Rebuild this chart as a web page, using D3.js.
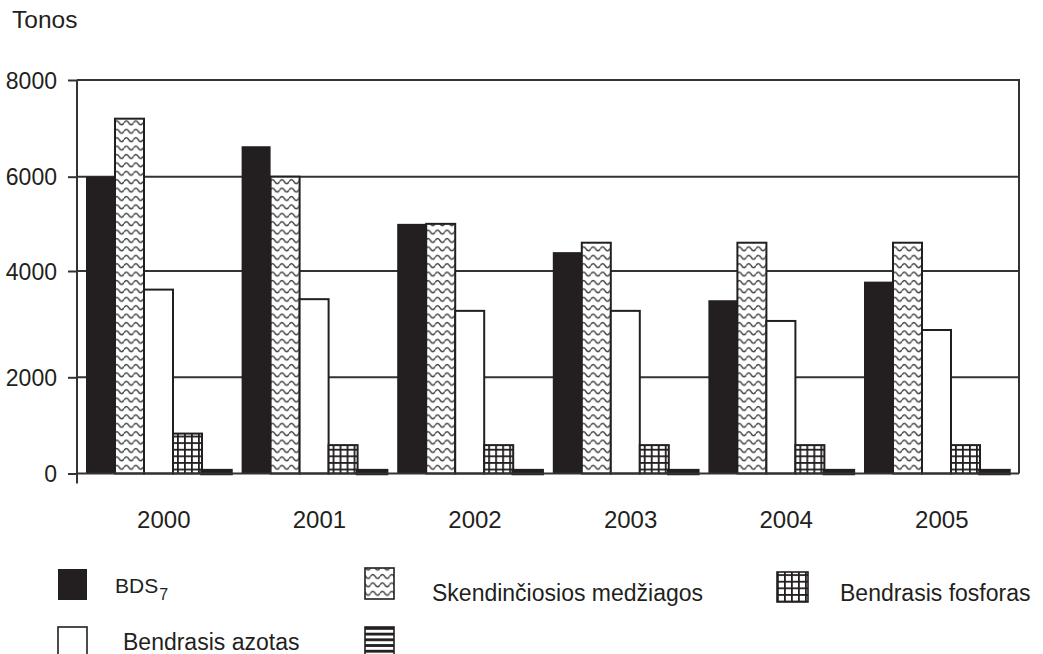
<!DOCTYPE html>
<html>
<head>
<meta charset="utf-8">
<script src="https://cdn.jsdelivr.net/npm/d3@7"></script>
<style>
  html, body { margin: 0; padding: 0; background: #fff; }
  svg { display: block; }
  text { font-family: "Liberation Sans", Arial, sans-serif; fill: #231f20; }
</style>
</head>
<body>
<svg id="chart" width="1043" height="654"></svg>
<script>
// Annual pollutant loads, tonnes
const years = ["2000", "2001", "2002", "2003", "2004", "2005"];
const seriesKeys = ["bds7", "skend", "azotas", "fosforas", "other"];
const seriesNames = ["BDS", "Skendinčiosios medžiagos", "Bendrasis azotas", "Bendrasis fosforas", ""];
const bds7     = [6000, 6630, 5000, 4400, 3450, 3800];
const skend    = [7200, 6000, 5000, 4600, 4600, 4600];
const azotas   = [3650, 3470, 3250, 3250, 3060, 2890];
const fosforas = [830, 590, 590, 590, 590, 590];
const other    = [60, 60, 60, 60, 60, 60];
const yTicks   = [0, 2000, 4000, 6000, 8000];

const seriesValues = { bds7, skend, azotas, fosforas, other };

const svg = d3.select("#chart");
const ink = "#231f20";

// Fill patterns
const defs = svg.append("defs");

const wave = defs.append("pattern").attr("id", "pat-wave")
  .attr("patternUnits", "userSpaceOnUse").attr("width", 9.5).attr("height", 8.4);
wave.append("rect").attr("width", 9.5).attr("height", 8.4).attr("fill", "#fff");
wave.append("path").attr("d", "M0,5.2 Q2.4,1.2 4.75,5.2 T9.5,5.2")
  .attr("fill", "none").attr("stroke", "#404040").attr("stroke-width", 1.5);

const grid = defs.append("pattern").attr("id", "pat-grid")
  .attr("patternUnits", "userSpaceOnUse").attr("width", 7).attr("height", 6.6);
grid.append("rect").attr("width", 7).attr("height", 6.6).attr("fill", ink);
grid.append("rect").attr("x", 1.8).attr("y", 1.8).attr("width", 5.2).attr("height", 4.8).attr("fill", "#fff");

const stripes = defs.append("pattern").attr("id", "pat-stripes")
  .attr("patternUnits", "userSpaceOnUse").attr("width", 10).attr("height", 5.7);
stripes.append("rect").attr("width", 10).attr("height", 5.7).attr("fill", "#fff");
stripes.append("rect").attr("width", 10).attr("height", 2.8).attr("fill", ink);

const seriesFill = {
  bds7: ink,
  skend: "url(#pat-wave)",
  azotas: "#fff",
  fosforas: "url(#pat-grid)",
  other: "url(#pat-stripes)"
};

// Plot frame
const plot = { left: 77, right: 1019, top: 80, bottom: 473.5 };

const y = d3.scaleLinear()
  .domain(yTicks)
  .range([473.5, 377.3, 271, 176.7, 80]);

const x = d3.scaleBand().domain(years).range([86, 1019.6]).paddingInner(0).paddingOuter(0);
const xs = d3.scaleBand().domain(seriesKeys).range([0, 145]).padding(0);

// Horizontal gridlines
svg.append("g").selectAll("line")
  .data(yTicks.slice(1, -1))
  .join("line")
  .attr("x1", plot.left).attr("x2", plot.right)
  .attr("y1", d => y(d)).attr("y2", d => y(d))
  .attr("stroke", "#333").attr("stroke-width", 2);

// Frame (top and right)
svg.append("path")
  .attr("d", `M${plot.left},${plot.top} H${plot.right} V${plot.bottom}`)
  .attr("fill", "none").attr("stroke", "#333").attr("stroke-width", 2);

// Bars
const groups = svg.append("g").selectAll("g")
  .data(years)
  .join("g")
  .attr("transform", d => `translate(${x(d)},0)`);

groups.selectAll("rect")
  .data((yr, i) => seriesKeys.map(k => ({ key: k, value: seriesValues[k][i] })))
  .join("rect")
  .attr("x", d => xs(d.key))
  .attr("width", xs.bandwidth())
  .attr("y", d => y(d.value))
  .attr("height", d => y(0) - y(d.value))
  .attr("fill", d => seriesFill[d.key])
  .attr("stroke", d => d.key === "bds7" ? "none" : ink)
  .attr("stroke-width", d => d.key === "other" ? 3.5 : 2);

// Baseline
svg.append("line")
  .attr("x1", plot.left).attr("x2", plot.right)
  .attr("y1", y(0)).attr("y2", y(0))
  .attr("stroke", "#333").attr("stroke-width", 2);

// Y axis
const yAxis = svg.append("g").attr("transform", `translate(${plot.left},0)`)
  .call(d3.axisLeft(y).tickValues(yTicks).tickFormat(d3.format("d")).tickSize(9).tickPadding(11));
yAxis.select(".domain").remove();
yAxis.selectAll(".tick line").attr("stroke", "#333").attr("stroke-width", 2);
yAxis.selectAll(".tick text")
  .attr("font-size", 23).attr("fill", ink)
  .attr("font-family", "'Liberation Sans', Arial, sans-serif")
  .attr("dy", "0.36em");
svg.append("line")
  .attr("x1", plot.left).attr("x2", plot.left)
  .attr("y1", plot.top).attr("y2", y(0) + 10)
  .attr("stroke", "#333").attr("stroke-width", 2);

// X axis labels
const xAxis = svg.append("g").attr("transform", `translate(0,${y(0)})`)
  .call(d3.axisBottom(x).tickSize(0).tickPadding(54));
xAxis.select(".domain").remove();
xAxis.selectAll(".tick text")
  .attr("font-size", 24).attr("fill", ink)
  .attr("font-family", "'Liberation Sans', Arial, sans-serif")
  .attr("dy", "0");

// Unit label
svg.append("text").attr("x", 12).attr("y", 28).attr("font-size", 24.5).text("Tonos");

// Legend
const legendLayout = [
  { key: "bds7",     sx: 58,  sy: 569, sw: 29, sh: 31, tx: 115, ty: 593, size: 21 },
  { key: "skend",    sx: 365, sy: 568, sw: 29, sh: 31, tx: 432, ty: 601, size: 23 },
  { key: "fosforas", sx: 777, sy: 572, sw: 31, sh: 30, tx: 840, ty: 601, size: 23 },
  { key: "azotas",   sx: 58,  sy: 627, sw: 29, sh: 31, tx: 123, ty: 650, size: 23 },
  { key: "other",    sx: 365, sy: 627, sw: 29, sh: 31, tx: 432, ty: 650, size: 23 }
];

const legend = svg.append("g").selectAll("g")
  .data(legendLayout)
  .join("g");

legend.append("rect")
  .attr("x", d => d.sx).attr("y", d => d.sy)
  .attr("width", d => d.sw).attr("height", d => d.sh)
  .attr("fill", d => seriesFill[d.key])
  .attr("stroke", d => d.key === "bds7" ? "none" : ink)
  .attr("stroke-width", 1.6);

const legendText = legend.append("text")
  .attr("x", d => d.tx).attr("y", d => d.ty)
  .attr("font-size", d => d.size)
  .text(d => seriesNames[seriesKeys.indexOf(d.key)]);

// Subscript on BDS7
legendText.filter(d => d.key === "bds7")
  .append("tspan").attr("font-size", 16).attr("dx", 1).attr("dy", 7).text("7");
</script>
</body>
</html>
